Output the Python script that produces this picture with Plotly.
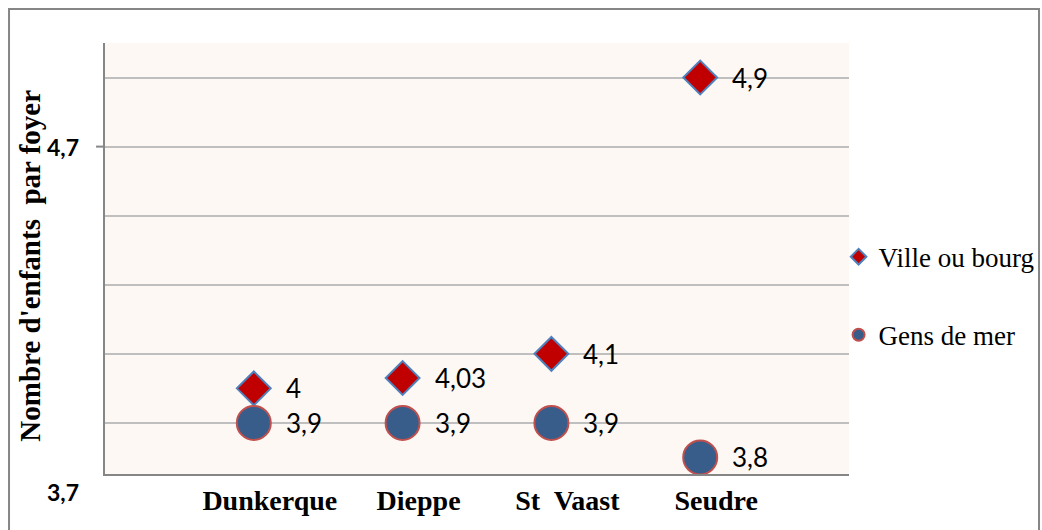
import plotly.graph_objects as go

categories = ["Dunkerque", "Dieppe", "St  Vaast", "Seudre"]
ville_values = [4.0, 4.03, 4.1, 4.9]
gens_values = [3.9, 3.9, 3.9, 3.8]
series_names = ["Ville ou bourg", "Gens de mer"]
ytick_positions = [4.7, 3.7]
ytick_labels = ["4,7", "3,7"]
y_title = "Nombre d'enfants \u00a0par foyer"
y_range = [3.752, 5.0]

x_pos = list(range(1, len(categories) + 1))

def fmt(v):
    return f"{v:g}".replace(".", ",")

def y_to_paper(v):
    return (v - y_range[0]) / (y_range[1] - y_range[0])

fig = go.Figure()
fig.add_trace(go.Scatter(
    x=x_pos, y=ville_values, mode="markers", name=series_names[0],
    marker=dict(symbol="diamond", size=26, color="#C00000",
                line=dict(color="#4F81BD", width=2)),
    legendgroup="a",
))
fig.add_trace(go.Scatter(
    x=x_pos, y=gens_values, mode="markers", name=series_names[1],
    marker=dict(symbol="circle", size=34, color="#385D8A",
                line=dict(color="#C0504D", width=2)),
    legendgroup="b",
))

annotations = []
for vals in (ville_values, gens_values):
    for xp, v in zip(x_pos, vals):
        annotations.append(dict(
            x=xp, y=v, xref="x", yref="y", text=fmt(v), showarrow=False,
            xanchor="left", yanchor="middle", xshift=30,
            font=dict(family="Lato", size=26, color="#000000"),
        ))
for yp, lab in zip(ytick_positions, ytick_labels):
    annotations.append(dict(
        x=0, y=y_to_paper(yp), xref="paper", yref="paper", text=lab, showarrow=False,
        xanchor="right", yanchor="middle", xshift=-24,
        font=dict(family="Lato", size=23, color="#000000", weight="bold"),
    ))
annotations.append(dict(
    x=-0.101, y=0.483, xref="paper", yref="paper", text=y_title,
    showarrow=False, textangle=-90, xanchor="center", yanchor="middle",
    font=dict(family="Liberation Serif", size=29, color="#000000", weight="bold"),
))

shapes = [
    dict(type="rect", xref="paper", yref="paper", x0=-0.129, x1=1.2554,
         y0=-0.3, y1=1.0789, line=dict(color="#868686", width=2),
         fillcolor="rgba(0,0,0,0)", layer="below"),
    dict(type="line", xref="paper", yref="y", x0=-0.012, x1=0,
         y0=ytick_positions[0], y1=ytick_positions[0],
         line=dict(color="#868686", width=2)),
]

fig.update_layout(
    width=1042, height=530,
    margin=dict(l=105, r=193, t=43, b=56, autoexpand=False),
    paper_bgcolor="#FFFFFF",
    plot_bgcolor="#FDF8F4",
    showlegend=True,
    legend=dict(
        x=0.986, xanchor="left", y=0.56, yanchor="top",
        font=dict(family="Liberation Serif", size=27, color="#000000"),
        itemsizing="constant", tracegroupgap=40, traceorder="grouped",
        bgcolor="rgba(0,0,0,0)",
    ),
    xaxis=dict(
        range=[0, 5], tickvals=x_pos, ticktext=categories,
        showgrid=False, zeroline=False, showline=True,
        linecolor="#868686", linewidth=2, ticks="",
        ticklabelshift=16,
        tickfont=dict(family="Liberation Serif", size=28, color="#000000", weight="bold"),
    ),
    yaxis=dict(
        range=y_range, tick0=3.9, dtick=0.2,
        showgrid=True, gridcolor="#BFBFBF", gridwidth=2,
        zeroline=False, showline=True, linecolor="#868686", linewidth=2,
        showticklabels=False, ticks="",
    ),
    annotations=annotations,
    shapes=shapes,
)

fig.write_html(
    "out.html",
    config={"displayModeBar": False},
    post_script="document.body.style.margin='0';document.body.style.overflow='hidden';",
)
